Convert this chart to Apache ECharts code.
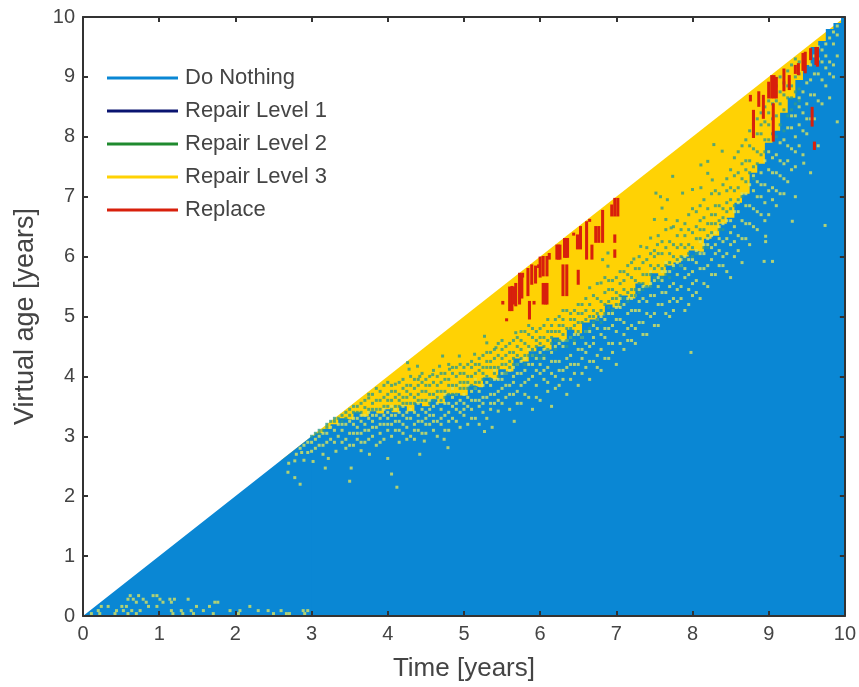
<!DOCTYPE html>
<html>
<head>
<meta charset="utf-8">
<style>html,body{margin:0;padding:0;background:#fff}#chart{width:859px;height:687px}</style>
<script src="https://cdn.jsdelivr.net/npm/echarts@6/dist/echarts.min.js"></script>
</head>
<body>
<div id="chart"></div>
<script>
const legendNames = ["Do Nothing", "Repair Level 1", "Repair Level 2", "Repair Level 3", "Replace"];
const tickMin = 0, tickMax = 10;

// upper edge of the whole region (time, virtual age)
const diagonalEdge = [[2.6, 2.6], [10, 10]];
// lower blue part, always under the stepped edge below
const blueEdge = [[0,0],[3,3],[3.5,3.2],[4,3.3],[4.5,3.4],[5,3.55],[5.5,3.9],[6,4.3],[6.5,4.6],[7,5.05],[7.5,5.45],[8,5.85],[8.5,6.5],[9,7.5],[9.5,8.8],[10,10]];
// stepped edge between the mostly blue and the mostly yellow part
const blueSteps = [[3,3],[3.1,3.05],[3.2,3.12],[3.3,3.2],[3.4,3.3],[3.5,3.28],[3.6,3.4],[3.7,3.33],[3.8,3.42],[3.9,3.38],[4,3.45],[4.1,3.4],[4.2,3.5],[4.3,3.42],[4.4,3.55],[4.5,3.5],[4.6,3.62],[4.7,3.55],[4.8,3.7],[4.9,3.72],[5,3.68],[5.1,3.85],[5.2,3.82],[5.3,3.98],[5.4,3.95],[5.5,4.12],[5.6,4.08],[5.7,4.3],[5.8,4.25],[5.9,4.42],[6,4.5],[6.1,4.45],[6.2,4.65],[6.3,4.6],[6.4,4.78],[6.5,4.72],[6.6,4.9],[6.7,4.95],[6.8,5.02],[6.9,5.2],[7,5.15],[7.1,5.35],[7.2,5.3],[7.3,5.55],[7.4,5.5],[7.5,5.72],[7.6,5.68],[7.7,5.85],[7.8,5.9],[7.9,6.0],[8,6.1],[8.1,6.08],[8.2,6.3],[8.3,6.35],[8.4,6.55],[8.5,6.65],[8.6,6.9],[8.7,7.05],[8.8,7.4],[8.9,7.55],[9,7.9],[9.1,8.1],[9.2,8.4],[9.3,8.65],[9.4,8.95],[9.5,9.2],[9.6,9.5],[9.7,9.6],[9.8,9.8],[9.9,9.9],[10,10]];

// single yellow cells inside the blue part
const repairSpecks = [
  [0.62,0.34],[0.73,0.34],[0.92,0.34],[0.97,0.34],[0.59,0.28],[0.66,0.28],[0.79,0.28],[1.01,0.28],[1.14,0.28],[1.2,0.28],[1.38,0.28],
  [0.7,0.23],[0.83,0.23],[1.05,0.23],[1.16,0.23],[1.73,0.23],[1.77,0.23],[0.24,0.16],[0.33,0.16],[0.51,0.16],[0.57,0.16],[0.86,0.16],[0.97,0.16],[1.49,0.16],[1.66,0.16],[2.19,0.16],
  [0.2,0.09],[0.44,0.09],[0.53,0.09],[0.64,0.09],[0.75,0.09],[1.16,0.09],[1.29,0.09],[1.42,0.09],[1.58,0.09],[1.93,0.09],[2.06,0.09],[2.3,0.09],[2.43,0.09],[2.6,0.09],[2.89,0.09],[2.95,0.09],
  [0.11,0.04],[0.22,0.04],[0.42,0.04],[0.59,0.04],[0.7,0.04],[1.18,0.04],[1.31,0.04],[1.45,0.04],[1.71,0.04],[2.04,0.04],[2.5,0.04],[2.67,0.04],[2.71,0.04],[2.91,0.04],
  [2.69,2.4],[2.78,2.31],[2.85,2.2],[2.7,2.55],[2.78,2.59],[2.87,2.73],[2.95,2.73],[3.02,2.58],[3.15,2.7],[3.22,2.63],[3.18,2.47],[3.32,2.75],[3.5,2.25],[3.52,2.47],[3.65,2.76],[3.76,2.7],[4,2.63],[4.05,2.37],[4.12,2.15],[4.42,2.7],[4.48,2.92],[4.74,2.95],[4.79,2.81],
  [5.27,3.08],[5.37,3.15],[5.66,3.25],[7.98,4.4],[8.94,5.92],[9.05,5.92],[8.96,6.25],[8.96,6.34],[9.31,6.59],[9.35,7.0],[9.74,6.52],[9.46,7.56],[9.9,8.25]
];

// more yellow cells in the blue part, one list per column: time, then virtual ages
const repairColumns = [
  [2.8,2.7],[2.85,2.8],[2.9,2.85,2.6],[2.95,2.9],[3,2.9,2.75],[3.05,2.95,2.8],[3.1,3.0,2.85],[3.15,2.85,3.05],[3.2,3.05,2.9],[3.25,2.95,3.15],[3.3,3.1,2.9],[3.35,3.0,3.2],[3.4,3.1,2.9,3.2],[3.45,2.95,3.2,2.8],[3.5,3.05,3.25,2.85],
  [3.55,3.2,3.05,2.85,3.3],[3.6,2.95,3.15,3.3,3.05],[3.65,3.05,3.25,2.9,3.35],[3.7,3.2,2.9,3.35,3.1],[3.75,3.1,3.3,2.95,3.4],[3.8,3.0,3.25,3.35,3.15],[3.85,2.85,3.15,3.35,3.45],[3.9,3.05,3.3,3.2,2.9],[3.95,2.95,3.2,3.35,3.45],[4,3.1,3.3,3.4,3.2],
  [4.05,3.2,3.0,3.35,3.5],[4.1,3.35,3.1,3.25,3.45],[4.15,2.9,3.25,3.4,3.1],[4.2,3.05,3.35,3.2,3.5],[4.25,3.15,3.4,2.95,3.3],[4.3,3.0,3.3,3.45,3.55],[4.35,3.2,2.95,3.4,3.1],[4.4,3.35,3.1,3.25,3.55],[4.45,3.25,3.45,3.05,3.6],[4.5,3.4,3.05,3.3,3.2],
  [4.55,3.2,3.45,3.35,3.6],[4.6,3.35,3.1,3.5,3.25],[4.65,3.0,3.25,3.55,3.65],[4.7,3.45,3.2,3.6,3.3],[4.75,3.35,3.55,3.1,3.7],[4.8,3.1,3.55,3.4,3.25],[4.85,3.3,3.65,3.5,3.8],[4.9,3.45,3.25,3.7,3.55],[4.95,3.6,3.15,3.4,3.85],[5,3.35,3.55,3.7,3.45],
  [5.05,3.65,3.2,3.5,3.85],[5.1,3.45,3.75,3.3,3.6],[5.15,3.6,3.3,3.8,3.95],[5.2,3.75,3.5,3.2,3.6],[5.25,3.4,3.65,3.85,3.55],[5.3,3.65,3.3,3.9,4.0],[5.35,3.85,3.55,3.45,3.7],[5.4,3.55,3.95,3.7,4.1],[5.45,3.75,3.42,3.95,3.6],[5.5,3.95,3.55,4.05,3.8],
  [5.55,3.65,4.05,3.85,4.2],[5.6,3.45,3.85,4.1,3.7],[5.65,4.0,3.7,4.15,3.9],[5.7,3.75,3.55,4.2,4.05],[5.75,3.55,4.05,4.25,3.85],[5.8,4.1,3.9,4.3,3.7],[5.85,3.65,4.2,3.95,4.45],[5.9,3.45,4.2,4.35,4.0],[5.95,3.85,4.3,4.1,3.65],[6,4.05,3.6,4.4,4.2],
  [6.05,4.3,3.95,4.45,4.1],[6.1,4.15,3.75,4.45,3.9],[6.15,3.5,4.4,4.05,4.25],[6.2,4.0,4.5,4.25,3.8],[6.25,4.25,3.85,4.55,4.1],[6.3,4.5,4.1,4.6,3.95],[6.35,3.7,4.3,4.6,4.15],[6.4,4.35,3.95,4.65,4.2],[6.45,4.55,4.2,4.7,4.05],[6.5,4.2,3.85,4.7,4.45],
  [6.55,4.65,4.05,4.45,4.3],[6.6,4.4,4.75,4.15,4.55],[6.65,4.75,3.95,4.5,4.25],[6.7,4.25,4.55,4.85,4.65],[6.75,4.8,4.35,4.95,4.15],[6.8,4.1,4.45,5.0,4.7],[6.85,4.95,4.65,4.3,4.8],[6.9,4.3,4.8,5.05,4.55],[6.95,5.05,4.55,4.85,4.4],[7,4.75,4.2,5.15,4.95],
  [7.05,5.15,4.95,4.55,5.3],[7.1,4.45,4.7,5.2,4.9],[7.15,5.05,4.8,5.3,4.6],[7.2,4.85,5.3,4.6,5.1],[7.25,4.55,5.1,5.35,4.8],[7.3,5.1,5.45,4.9,5.25],[7.35,4.9,5.3,5.5,4.7],[7.4,5.25,4.7,5.5,5.05],[7.45,5.55,5.0,5.35,5.75],[7.5,5.05,5.35,5.6,4.85],
  [7.55,4.85,5.5,5.65,5.2],[7.6,5.6,5.2,5.75,5.4],[7.65,5.4,5.75,5.05,5.9],[7.7,5.75,5.0,5.5,5.25],[7.75,5.55,5.3,5.85,5.1],[7.8,5.25,5.7,5.9,5.45],[7.85,5.85,5.5,5.95,5.3],[7.9,5.1,5.65,6.0,5.8],[7.95,5.7,5.45,5.95,5.2],[8,5.95,5.35,5.75,5.55],
  [8.05,5.6,6.1,5.9,5.4],[8.1,6.05,5.3,5.8,6.25],[8.15,5.8,6.2,6.05,5.55],[8.2,6.2,5.5,6.3,5.85],[8.25,5.95,6.35,6.15,5.7],[8.3,6.4,5.7,6.05,6.2],[8.35,6.1,6.5,5.85,6.3],[8.4,6.55,5.85,6.25,6.0],[8.45,6.3,6.6,6.05,5.75],[8.5,6.6,5.65,6.4,6.2],
  [8.55,6.0,6.5,6.75,6.25],[8.6,6.75,6.35,6.9,6.1],[8.65,5.9,6.6,7.05,6.3],[8.7,7.05,6.55,6.3,6.85],[8.75,6.2,6.85,7.2,6.55],[8.8,6.8,7.35,6.5,7.1],[8.85,7.25,6.45,7.0,6.75],[8.9,7.0,7.4,6.7,7.2],[8.95,7.6,6.9,7.2,6.6],[9,7.45,6.7,7.75,7.1],
  [9.05,7.15,7.65,6.95,7.4],[9.1,7.7,6.85,7.4,7.1],[9.15,7.35,7.9,7.05,7.6],[9.2,7.95,7.05,7.55,7.3],[9.25,7.6,8.15,7.25,7.85],[9.3,8.15,7.45,7.8,8.35],[9.35,7.5,8.35,8.0,7.75],[9.4,7.85,8.5,8.2,8.65],[9.45,8.4,7.7,8.75,8.1],[9.5,8.05,8.9,8.55,8.3],
  [9.55,7.4,8.7,8.3,8.95,9.2],[9.6,8.3,9.05,8.7,9.35],[9.65,7.85,9.05,8.6,9.3,9.5],[9.7,8.95,8.55,9.25,9.45],[9.75,9.15,8.85,9.35,9.55],[9.8,9.25,8.65,9.05,9.65],[9.85,9.55,9.0,9.2,9.75],[9.9,9.7,9.35,9.85]
];

// single blue cells inside the yellow part
const nothingSpecks = [
  [4.26,4.23],[4.28,4.12],[4.39,4.17],[4.42,4.0],[4.59,4.03],[4.68,4.17],[4.72,4.34],[4.81,4.12],[4.94,4.34],[5.14,4.37],[5.27,4.67],[5.3,4.56],[5.42,4.48],[5.68,4.73],
  [6.82,5.95],[6.89,6.06],[6.89,5.84],[7.23,5.96],[7.32,6.17],[7.45,6.31],[7.5,6.62],[7.52,7.06],[7.54,6.2],[7.58,7.0],[7.6,6.81],[7.65,6.62],[7.67,6.95],[7.72,6.48],[7.74,7.34],[7.87,7.06],[8,7.12],[8.11,7.15],[8.11,7.53],[8.2,7.39],[8.2,7.59],[8.26,7.28],[8.28,7.87],[8.39,7.76]
];

// more blue cells in the yellow part, one list per column: time, then virtual ages
const nothingColumns = [
  [3,3.0],[3.05,3.05],[3.1,3.1,3.05],[3.15,3.1],[3.2,3.2,3.15],[3.25,3.25],[3.3,3.25,3.3],[3.35,3.3],[3.4,3.25,3.35],[3.45,3.4,3.3],[3.5,3.45,3.35],[3.55,3.4,3.5],[3.6,3.5,3.4],[3.65,3.4,3.55],[3.7,3.48,3.6],[3.75,3.45,3.64,3.7],[3.8,3.55,3.45,3.7],[3.85,3.45,3.6,3.8],[3.9,3.6,3.45,3.75],[3.95,3.5,3.65,3.85],[4,3.7,3.5,3.6,3.9],
  [4.05,3.6,3.45,3.75,3.85],[4.1,3.5,3.87,3.65,3.75],[4.15,3.7,3.5,3.6,3.9],[4.2,3.55,3.8,3.65,3.95],[4.25,3.75,3.55,3.65,3.85],[4.3,3.55,3.85,3.7,4.0],[4.35,3.65,3.55,3.95,3.8],[4.4,3.85,3.6,3.7,3.95],[4.45,3.6,3.75,3.9,4.05],[4.5,3.75,3.6,3.95,3.85],
  [4.55,3.55,3.85,4.0,3.7],[4.6,3.7,3.6,3.9,4.1],[4.65,3.85,3.65,4.0,3.75],[4.7,3.6,3.9,3.75,4.05],[4.75,3.75,3.65,4.05,3.95],[4.8,3.95,3.7,3.85,4.2],[4.85,3.7,4.05,3.85,4.15],[4.9,3.85,4.15,4.0,3.7],[4.95,4.05,3.8,3.9,4.2],[5,3.9,4.15,3.8,4.05],
  [5.05,3.8,4.0,4.2,3.9],[5.1,4.0,3.85,4.25,4.15],[5.15,4.2,3.9,4.05,3.8],[5.2,3.9,4.1,4.3,4.2],[5.25,4.05,3.95,4.35,4.15],[5.3,4.25,4.0,4.15,4.4],[5.35,3.95,4.15,4.4,4.25],[5.4,4.15,4.05,4.3,4.45],[5.45,4.35,4.15,4.55,4.0],[5.5,4.2,4.45,4.3,4.6],
  [5.55,4.5,4.2,4.35,4.05],[5.6,4.25,4.55,4.15,4.4],[5.65,4.4,4.2,4.6,4.3],[5.7,4.2,4.5,4.65,4.35],[5.75,4.6,4.3,4.45,4.75],[5.8,4.35,4.75,4.55,4.2],[5.85,4.5,4.35,4.7,4.85],[5.9,4.65,4.45,4.8,4.35],[5.95,4.35,4.6,4.75,4.5],[6,4.8,4.55,4.65,4.3],
  [6.05,4.65,4.5,4.85,4.35],[6.1,4.45,4.75,4.6,4.95],[6.15,4.85,4.65,4.55,4.75],[6.2,4.6,4.95,4.75,4.45],[6.25,4.75,4.6,5.0,4.85],[6.3,4.95,4.7,4.85,5.1],[6.35,4.6,4.8,5.1,4.5],[6.4,4.8,5.05,4.65,4.95],[6.45,5.1,4.85,4.95,4.6],[6.5,4.9,4.75,5.2,5.05],
  [6.55,5.2,4.9,5.05,4.65],[6.6,4.95,5.3,5.1,4.75],[6.65,5.48,5.0,5.2,4.8],[6.7,5.1,4.9,5.35,5.0],[6.75,5.3,5.05,5.55,4.95],[6.8,5.56,5.1,5.25,4.9],[6.85,5.2,5.4,5.65,5.05],[6.9,5.45,5.25,5.15,5.6],[6.95,5.3,5.6,5.45,5.1],[7,5.65,5.4,5.3,5.2],
  [7.05,5.55,5.35,5.75,5.2],[7.1,5.3,5.6,5.45,5.75],[7.15,5.7,5.4,5.85,5.25],[7.2,5.45,5.65,5.35,5.9],[7.25,5.6,5.45,5.8,5.35],[7.3,5.8,5.55,6.0,5.4],[7.35,5.55,5.9,5.7,5.45],[7.4,5.95,5.7,6.15,5.5],[7.45,5.7,6.05,5.85,5.5],[7.5,5.8,6.1,6.0,5.65],
  [7.55,5.85,6.35,6.05,5.6],[7.6,6.05,5.8,6.25,5.65],[7.65,5.85,6.15,6.45,5.7],[7.7,5.9,6.25,6.05,5.65],[7.75,6.2,6.0,6.5,5.8],[7.8,6.35,5.95,6.6,6.15],[7.85,6.0,6.45,6.2,5.85],[7.9,6.55,6.15,6.35,5.95],[7.95,6.2,6.7,6.05,6.45],[8,6.4,6.15,6.8,6.0],
  [8.05,6.75,6.3,6.5,6.05],[8.1,6.3,6.6,6.85,6.45],[8.15,6.95,6.45,6.65,6.15],[8.2,6.55,6.8,6.35,6.15],[8.25,6.7,7.05,6.4,6.55],[8.3,6.85,6.55,7.1,6.7],[8.35,7.05,6.6,6.85,6.45],[8.4,6.8,7.2,6.65,6.45],[8.45,7.3,6.9,6.75,7.1],[8.5,6.95,7.15,7.45,6.8],
  [8.55,7.65,7.1,6.85,7.35],[8.6,7.4,6.95,7.75,7.15],[8.65,7.85,7.0,7.3,7.55],[8.7,7.25,7.6,7.95,7.45],[8.75,8.1,7.6,7.4,7.85],[8.8,7.5,8.2,7.8,7.3],[8.85,8.3,7.75,7.55,8.05],[8.9,8.05,8.4,7.7,8.2],[8.95,8.5,7.95,8.25,7.75],[9,8.2,8.6,7.95,8.4],
  [9.05,8.75,8.3,8.05,8.55],[9.1,8.35,8.0,8.85,8.6],[9.15,8.55,9.0,8.2,8.75],[9.2,8.9,8.45,8.7,8.1],[9.25,8.65,9.1,8.35,8.85],[9.3,8.45,9.2,8.85,8.65],[9.35,9.0,8.75,9.3,8.55],[9.4,9.25,9.05,8.8,8.6]
];

// vertical runs of red cells: time, lowest and highest virtual age
const replaceX =    [5.51,5.56,5.63,5.68,5.73,5.77,5.84,5.86,5.89,5.92,5.98,6.04,6.09,6.04,6.09,6.12,6.22,6.26,6.32,6.36,6.3,6.35,6.44,6.49,6.53,6.5,6.61,6.65,6.68,6.73,6.77,6.82,6.94,6.98,7.02,6.98,6.98,8.76,8.8,8.87,9.0,9.06,9.07,9.2,9.27,9.39,9.48,9.55,9.64,9.57,9.6,5.6,5.65,5.76,6.07,6.24,6.34,5.94,6.0,8.93,9.04,9.1,9.45,9.62,9.35];
const replaceLow =  [5.2,4.92,5.09,5.17,5.2,5.65,5.34,4.95,5.53,5.2,5.81,5.67,5.67,5.2,5.2,5.95,5.95,5.95,5.98,5.98,5.34,5.34,6.35,6.12,6.12,5.53,5.95,6.58,5.95,6.23,6.23,6.23,6.67,6.67,6.67,6.23,5.98,8.59,7.98,8.5,8.64,7.92,8.64,8.76,8.78,9.03,9.06,9.28,9.17,8.17,7.78,5.09,5.2,5.3,5.2,5.95,5.98,5.55,5.65,8.3,8.64,8.64,9.1,9.2,9.05];
const replaceHigh = [5.26,4.97,5.51,5.56,5.73,5.73,5.81,5.26,5.87,5.26,5.87,6.01,6.01,5.56,5.56,6.06,6.2,6.2,6.31,6.31,5.87,5.87,6.4,6.37,6.51,5.78,6.59,6.63,6.2,6.51,6.51,6.78,6.87,6.98,6.98,6.37,6.12,8.7,8.45,8.76,8.92,8.56,9.03,9.14,9.03,9.23,9.42,9.48,9.5,8.5,7.92,5.5,5.5,5.7,5.56,6.2,6.31,5.85,6.0,8.7,9.03,9.0,9.4,9.5,9.2];

// a column [x, y1, y2, ...] becomes the points [x, y1], [x, y2], ...
function columnPoints(columns) {
    const points = [];
    columns.forEach((col) => {
        col.slice(1).forEach((y) => points.push([col[0], y]));
    });
    return points;
}

const chart = echarts.init(document.getElementById("chart"), null, { renderer: "canvas" });

const fontFamily = "'Liberation Sans', Arial, sans-serif";
const axisInk = "#333333";
const tickStyle = { show: true, inside: true, length: 5, lineStyle: { color: axisInk, width: 2 } };

function baseAxis(position, showLabel) {
    return {
        type: "value",
        position: position,
        min: tickMin,
        max: tickMax,
        interval: 1,
        z: 10,
        splitLine: { show: false },
        axisLine: { show: true, onZero: false, lineStyle: { color: axisInk, width: 2 } },
        axisTick: tickStyle,
        axisLabel: { show: showLabel, color: "#444444", fontFamily: fontFamily, fontSize: 20, margin: 8 },
    };
}

function areaSeries(name, color, data) {
    return {
        name: name,
        type: "line",
        data: data,
        symbol: "none",
        itemStyle: { color: color },
        lineStyle: { width: 0, color: color },
        areaStyle: { color: color, opacity: 1 },
        silent: true,
        z: 2,
    };
}

function speckSeries(name, color, data) {
    return {
        name: name,
        type: "scatter",
        data: data,
        symbol: "rect",
        symbolSize: [3, 3],
        itemStyle: { color: color },
        silent: true,
        z: 3,
    };
}

const option = {
    animation: false,
    grid: { left: 83, right: 13, top: 17, bottom: 70 },
    xAxis: [
        Object.assign(baseAxis("bottom", true), {
            name: "Time [years]",
            nameLocation: "middle",
            nameGap: 40,
            nameTextStyle: { color: "#444444", fontFamily: fontFamily, fontSize: 26 },
        }),
        baseAxis("top", false),
    ],
    yAxis: [
        Object.assign(baseAxis("left", true), {
            name: "Virtual age [years]",
            nameLocation: "middle",
            nameGap: 44,
            nameTextStyle: { color: "#444444", fontFamily: fontFamily, fontSize: 27 },
        }),
        baseAxis("right", false),
    ],
    legend: {
        left: 102,
        top: 61,
        orient: "vertical",
        selectedMode: false,
        itemWidth: 71,
        itemHeight: 3,
        itemGap: 9,
        icon: "rect",
        textStyle: { color: "#444444", fontFamily: fontFamily, fontSize: 22, padding: [0, 0, 0, 2], lineHeight: 24 },
        data: legendNames,
    },
    series: [
        areaSeries("Repair Level 3", "#ffd204", diagonalEdge),
        areaSeries("Do Nothing", "#0a87d4", blueEdge),
        Object.assign(areaSeries("Do Nothing", "#0a87d4", blueSteps), { step: "middle" }),
        { name: "Repair Level 1", type: "line", data: [], itemStyle: { color: "#0a1470" } },
        { name: "Repair Level 2", type: "line", data: [], itemStyle: { color: "#1f8a2e" } },
        speckSeries("Repair Level 3", "#d9e45e", repairSpecks.concat(columnPoints(repairColumns))),
        speckSeries("Do Nothing", "#2f9c8c", nothingSpecks.concat(columnPoints(nothingColumns))),
        {
            name: "Replace",
            type: "custom",
            itemStyle: { color: "#d8200c" },
            silent: true,
            z: 4,
            encode: { x: 0, y: [1, 2] },
            data: replaceX.map((x, i) => [x, replaceLow[i], replaceHigh[i]]),
            renderItem: function (params, api) {
                const top = api.coord([api.value(0), api.value(2)]);
                const bottom = api.coord([api.value(0), api.value(1)]);
                const width = api.size([0.04, 0])[0];
                return {
                    type: "rect",
                    shape: { x: top[0] - width / 2, y: top[1], width: width, height: bottom[1] - top[1] },
                    style: { fill: "#d8200c" },
                };
            },
        },
    ],
};

chart.setOption(option);
</script>
</body>
</html>
